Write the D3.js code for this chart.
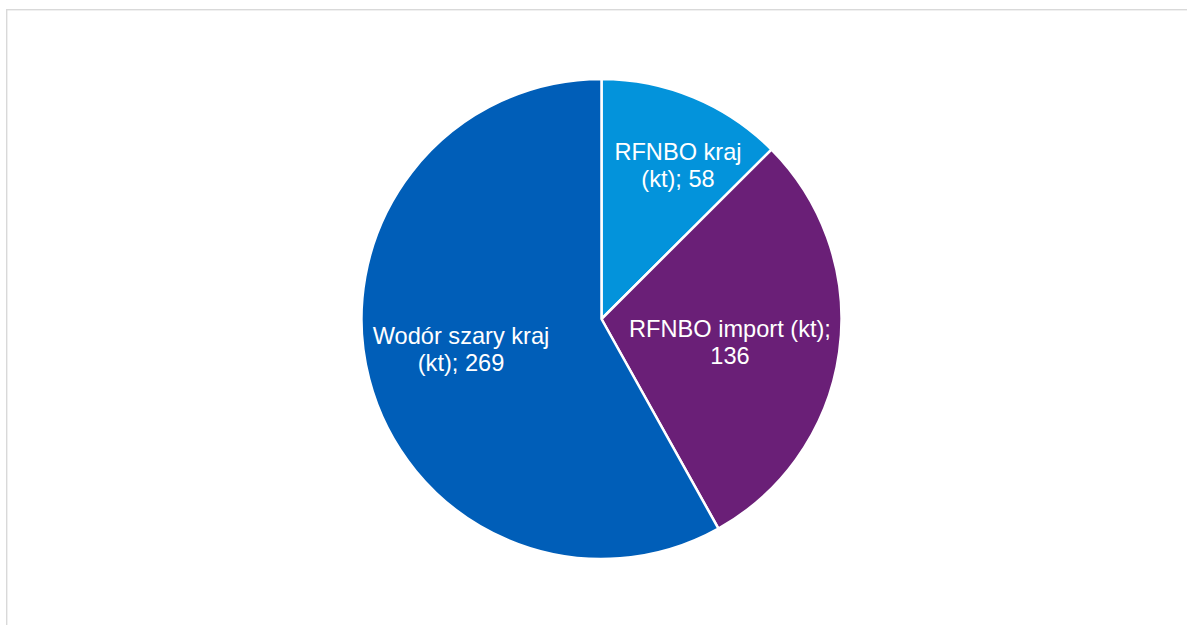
<!DOCTYPE html>
<html lang="pl">
<head>
<meta charset="utf-8">
<script src="https://cdn.jsdelivr.net/npm/d3@7"></script>
<style>
  html, body { margin: 0; padding: 0; background: #fff; }
  svg { display: block; }
</style>
</head>
<body>
<svg id="chart" width="1187" height="625"></svg>
<script>
// Hydrogen supply structure (kt)
const categories = ["RFNBO kraj", "RFNBO import", "Wodór szary kraj"];
const values = [58, 136, 269];
const labelLines = [
  ["RFNBO kraj", "(kt); 58"],
  ["RFNBO import (kt);", "136"],
  ["Wodór szary kraj", "(kt); 269"]
];
const colors = ["#0393db", "#6a1f77", "#005eb8"];

const width = 1187, height = 625;
const cx = 601.5, cy = 319, radius = 240;

// label box centres relative to the pie centre (first-line baseline)
const labelAnchors = [
  { dx: 76.5, dy: -159 },
  { dx: 128.5, dy: 17.5 },
  { dx: -140.5, dy: 25 }
];
const lineGap = 27;

const svg = d3.select("#chart");

// chart area frame
svg.append("rect")
  .attr("x", 6.7).attr("y", 9.7)
  .attr("width", 1200).attr("height", 700)
  .attr("fill", "none")
  .attr("stroke", "#d9d9d9")
  .attr("stroke-width", 1.4);

const data = categories.map((c, i) => ({ name: c, value: values[i], lines: labelLines[i], color: colors[i], anchor: labelAnchors[i] }));

const pie = d3.pie().value(d => d.value).sort(null);
const arc = d3.arc().innerRadius(0).outerRadius(radius);

const g = svg.append("g").attr("transform", `translate(${cx},${cy})`);

const slices = g.selectAll("g.slice").data(pie(data)).join("g").attr("class", "slice");

slices.append("path")
  .attr("d", arc)
  .attr("fill", d => d.data.color)
  .attr("stroke", "#ffffff")
  .attr("stroke-width", 2.5)
  .attr("stroke-linejoin", "round");

slices.append("text")
  .attr("text-anchor", "middle")
  .attr("font-family", "'Liberation Sans', Arial, sans-serif")
  .attr("font-size", "23.6px")
  .attr("fill", "#ffffff")
  .each(function (d) {
    const t = d3.select(this);
    d.data.lines.forEach((line, i) => {
      t.append("tspan")
        .attr("x", d.data.anchor.dx)
        .attr("y", d.data.anchor.dy + i * lineGap)
        .text(line);
    });
  });
</script>
</body>
</html>
